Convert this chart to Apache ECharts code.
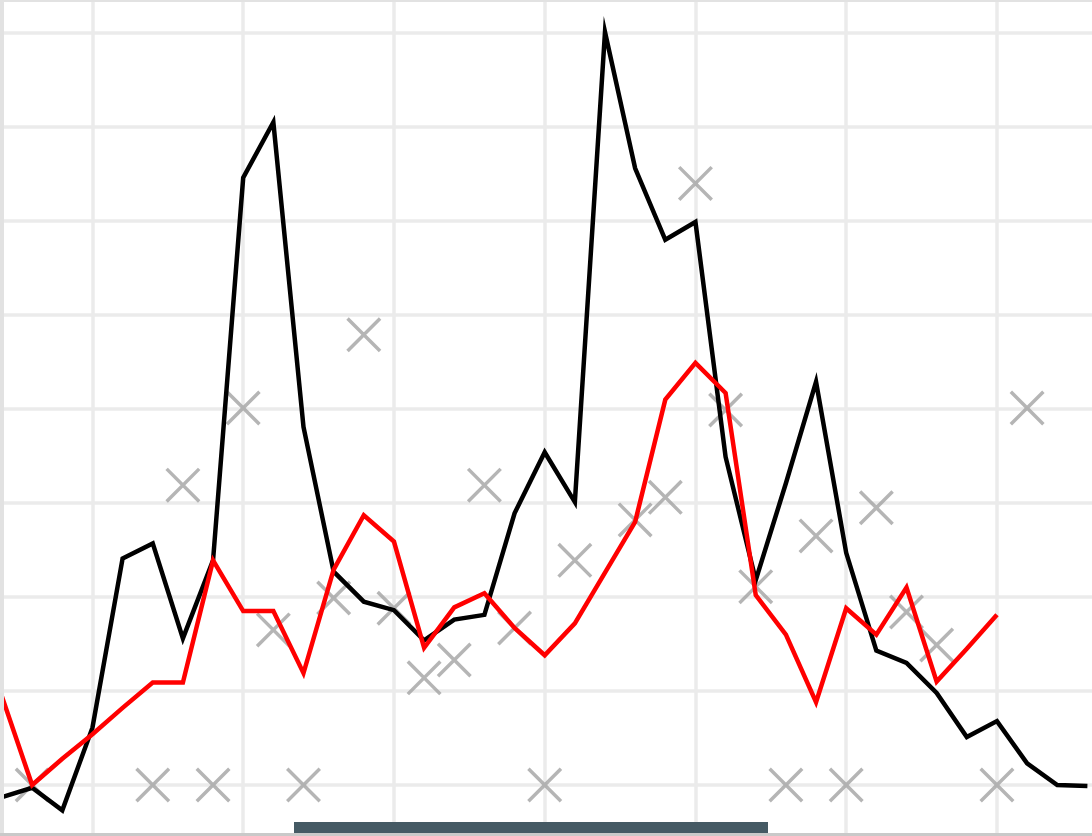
<!DOCTYPE html>
<html>
<head>
<meta charset="utf-8">
<script src="https://cdn.jsdelivr.net/npm/echarts@6/dist/echarts.min.js"></script>
<style>
  html, body { margin: 0; padding: 0; background: #ffffff; }
  #chart { width: 1092px; height: 836px; }
</style>
</head>
<body>
<div id="chart"></div>
<script>
// x positions of the observations
var xValues = [2, 3, 4, 5, 6, 7, 8, 9, 10, 11, 12, 13, 14, 15, 16, 17, 18, 19, 20,
               21, 22, 23, 24, 25, 26, 27, 28, 29, 30, 31, 32, 33, 34, 35, 36, 37, 38];

// black line
var blackValues = [-1.3, -0.3, -2.7, 6.1, 24.1, 25.7, 15.6, 23.9, 64.6, 70.5, 38.1, 22.7,
                   19.5, 18.6, 15.4, 17.6, 18.1, 28.9, 35.4, 30.1, 80.1, 65.6, 58.0, 59.9,
                   34.9, 21.8, 32.1, 42.9, 24.7, 14.3, 13.0, 9.8, 5.1, 6.8, 2.3, 0.0, -0.1];

// red line
var redValues = [9.4, 0.0, 2.8, 5.4, 8.2, 10.9, 10.9, 23.9, 18.5, 18.5, 11.9, 22.9,
                 28.7, 25.9, 14.6, 18.9, 20.4, 16.7, 13.8, 17.2, 22.6, 28.0, 41.0, 44.9,
                 41.7, 20.2, 16.0, 8.8, 18.8, 16.0, 21.0, 11.0, 14.5, 18.1];

// gray cross markers
var crossX = [3, 7, 8, 9, 10, 11, 12, 13, 14, 15, 16, 17, 18, 19, 20, 21, 23, 24, 25, 26,
              27, 28, 29, 30, 31, 32, 33, 35, 36];
var crossY = [0.0, 0.0, 31.9, 0.0, 40.1, 16.5, 0.0, 19.9, 47.9, 18.8, 11.4, 13.3, 31.9, 16.7,
              0.0, 23.9, 28.2, 30.6, 64.0, 39.9, 21.1, 0.0, 26.5, 0.0, 29.5, 18.4, 14.9, 0.0, 40.1];

function pairs(xs, ys) {
  var out = [];
  for (var i = 0; i < ys.length; i++) out.push([xs[i], ys[i]]);
  return out;
}

var crossPath = 'path://M0,7 L7,0 L100,93 L93,100 Z M93,0 L100,7 L7,100 L0,93 Z';

var chart = echarts.init(document.getElementById('chart'), null, { renderer: 'canvas' });
chart.setOption({
  backgroundColor: '#ffffff',
  animation: false,
  grid: { left: -58.3, width: 1206, top: -61, height: 940, containLabel: false, outerBoundsMode: 'none' },
  xAxis: {
    type: 'value', min: 0, max: 40, interval: 5,
    axisLine: { show: false }, axisTick: { show: false }, axisLabel: { show: false },
    splitLine: { show: true, lineStyle: { color: '#ebebeb', width: 3.5 } }
  },
  yAxis: {
    type: 'value', min: -10, max: 90, interval: 10,
    axisLine: { show: false }, axisTick: { show: false }, axisLabel: { show: false },
    splitLine: { show: true, lineStyle: { color: '#ebebeb', width: 3.5 } }
  },
  series: [
    {
      type: 'scatter', data: pairs(crossX, crossY), symbol: crossPath, symbolSize: 35,
      itemStyle: { color: '#a3a3a3' }, z: 2
    },
    {
      type: 'line', data: pairs(xValues, blackValues), showSymbol: false, symbol: 'none',
      lineStyle: { color: '#000000', width: 4.5, join: 'miter' }, z: 3
    },
    {
      type: 'line', data: pairs(xValues, redValues), showSymbol: false, symbol: 'none',
      lineStyle: { color: '#ff0000', width: 4.5, join: 'miter' }, z: 4
    }
  ],
  graphic: [
    { type: 'rect', shape: { x: 0, y: 0, width: 1092, height: 2 }, style: { fill: '#e2e2e2' }, z: 100 },
    { type: 'rect', shape: { x: 0, y: 0, width: 4, height: 836 }, style: { fill: '#e2e2e2' }, z: 100 },
    { type: 'rect', shape: { x: 294, y: 822, width: 474, height: 14 }, style: { fill: '#455a64' }, z: 100 },
    { type: 'rect', shape: { x: 0, y: 833, width: 1092, height: 3 }, style: { fill: '#c9c9c9' }, z: 101 }
  ]
});
</script>
</body>
</html>
